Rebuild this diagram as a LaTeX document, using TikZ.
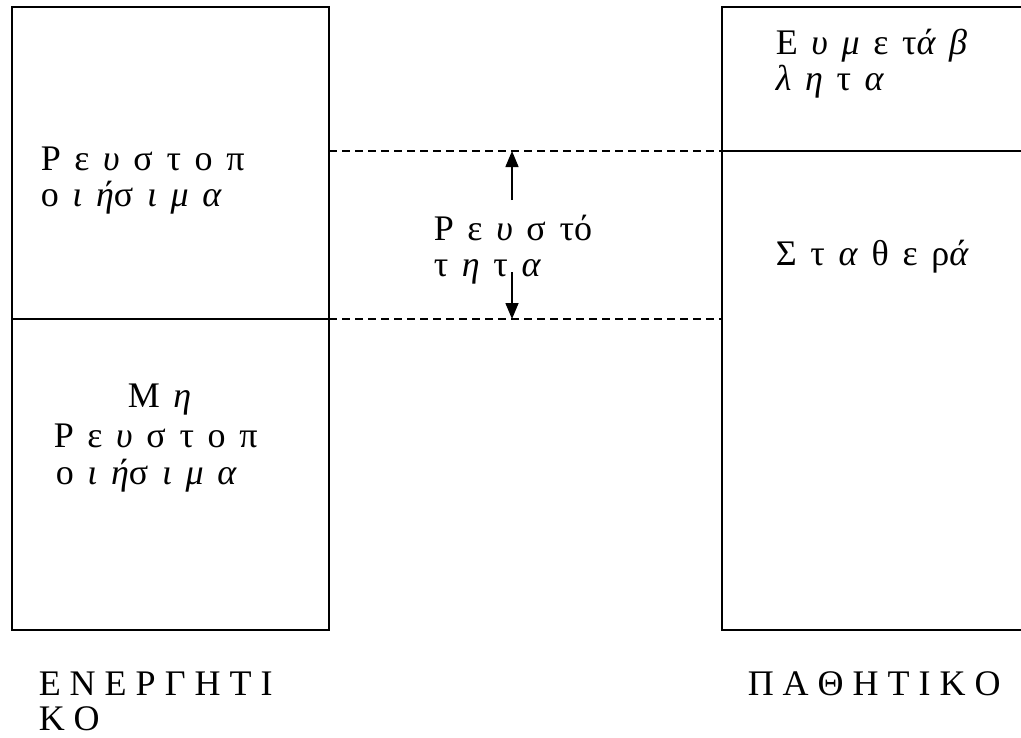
\documentclass[tikz,border=0pt]{standalone}
\usepackage{fontspec}
\setmainfont{Liberation Serif}
\usetikzlibrary{arrows.meta}
\newcommand\lblfont{\fontsize{36}{37}\selectfont}
\newcommand\widespace{\spaceskip=0.38em\relax}
\begin{document}
\begin{tikzpicture}[x=1pt,y=-1pt,line width=1.5pt,
  lbl/.style={anchor=base west,inner sep=0pt,text height=25pt,text depth=5pt,font=\lblfont,execute at begin node=\widespace},
  capl/.style={anchor=base west,inner sep=0pt,text height=25pt,text depth=4pt,font=\lblfont},
  dashln/.style={dash pattern=on 8pt off 5pt,line width=1.3pt},
  arr/.style={-{Triangle[width=13pt,length=16pt]},line width=1.5pt}]
\useasboundingbox (0,0) rectangle (1021,737);
% left box
\coordinate (LTL) at (12,7);
\coordinate (LTR) at (329,7);
\coordinate (LML) at (12,319);
\coordinate (LMR) at (329,319);
\coordinate (LBL) at (12,630);
\coordinate (LBR) at (329,630);
\draw (LTL) -- (LTR) -- (LBR) -- (LBL) -- cycle;
\draw (LML) -- (LMR);
% right box (cut by the right edge)
\coordinate (RTL) at (722,7);
\coordinate (RTR) at (1021,7);
\coordinate (RML) at (722,151);
\coordinate (RMR) at (1021,151);
\coordinate (RBL) at (722,630);
\coordinate (RBR) at (1021,630);
\draw (RTR) -- (RTL) -- (RBL) -- (RBR);
\draw (RML) -- (RMR);
% dashed levels
\coordinate (LU) at (329,151);
\coordinate (RD) at (722,319);
\coordinate (AU) at (512,151);
\coordinate (AD) at (512,319);
\draw[dashln] (LU) -- (RML);
\draw[dashln] (LMR) -- (RD);
% arrows
\coordinate (AUs) at (512,200);
\coordinate (ADs) at (512,272);
\draw[arr] (AUs) -- (AU);
\draw[arr] (ADs) -- (AD);
% texts
\node[lbl] (t1a) at (40,170) {Ρ ε \textit{υ} σ τ ο π};
\node[lbl] (t1b) at (40,206) {ο \textit{ι ή}σ \textit{ι μ α}};
\node[lbl] (t2a) at (127,407) {Μ \textit{η}};
\node[lbl] (t2b) at (53,447) {Ρ ε \textit{υ} σ τ ο π};
\node[lbl] (t2c) at (55,484) {ο \textit{ι ή}σ \textit{ι μ α}};
\node[lbl] (t3a) at (433,240) {Ρ ε \textit{υ} σ τό};
\node[lbl] (t3b) at (433,276) {τ \textit{η} τ \textit{α}};
\node[lbl] (t4a) at (775,54) {Ε \textit{υ μ} ε τ\textit{ά β}};
\node[lbl] (t4b) at (775,90) {\textit{λ η} τ \textit{α}};
\node[lbl] (t5) at (775,265) {Σ τ \textit{α} θ ε ρ\textit{ά}};
\node[capl] (t6a) at (38,695) {Ε Ν Ε Ρ Γ Η Τ Ι};
\node[capl] (t6b) at (38,730) {Κ Ο};
\node[capl] (t7) at (747,695) {Π Α Θ Η Τ Ι Κ Ο};
\end{tikzpicture}
\end{document}
